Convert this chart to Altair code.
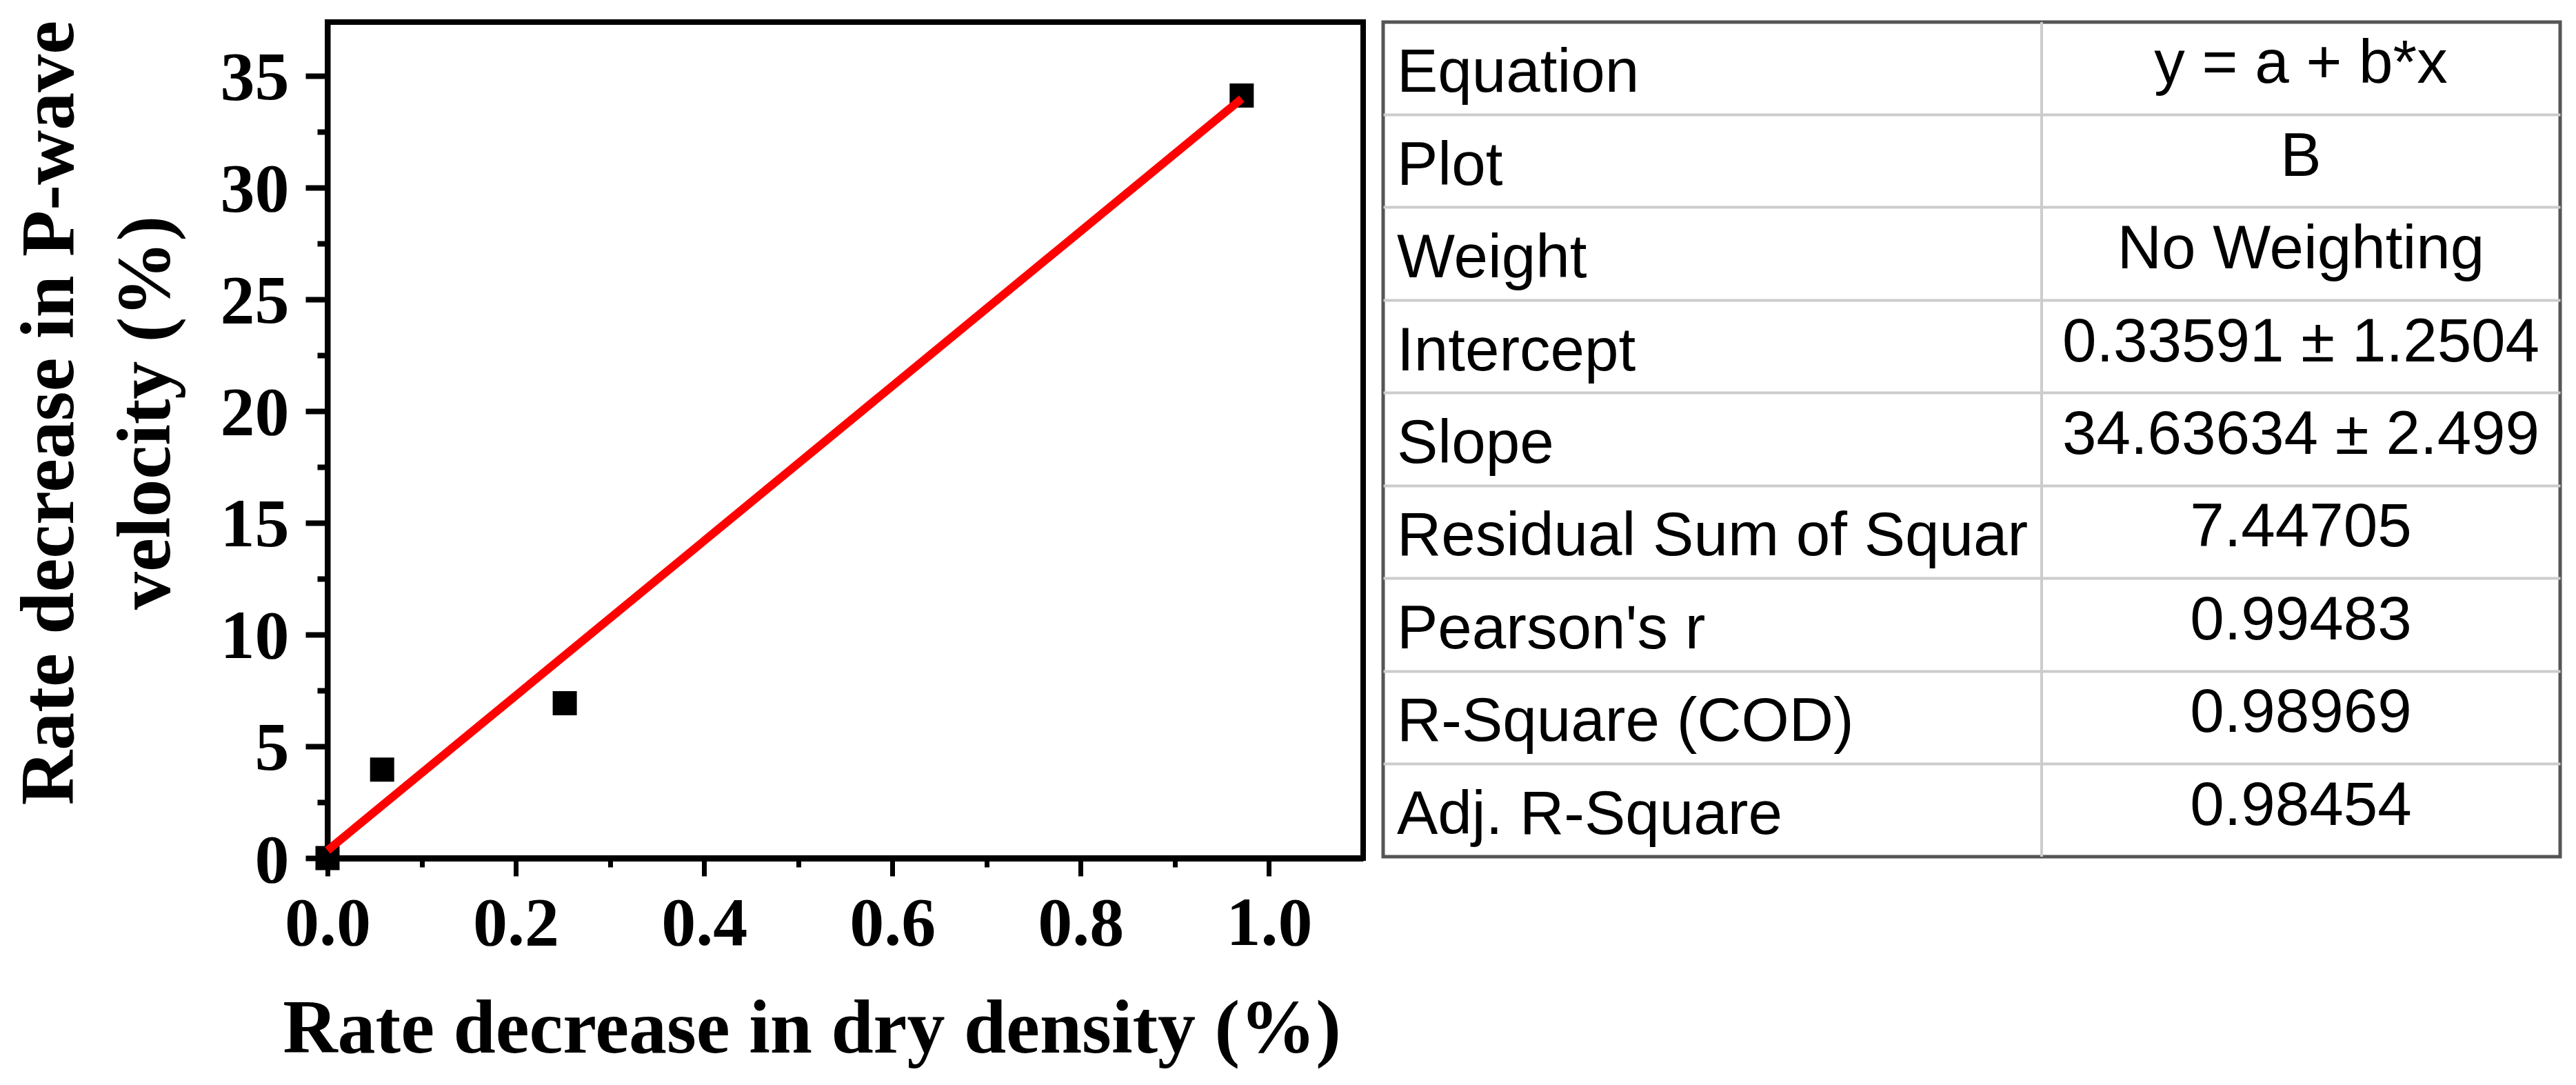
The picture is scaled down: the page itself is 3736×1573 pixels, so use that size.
import altair as alt
import pandas as pd

# ---- scatter data ----
x_vals = [0.0, 0.058, 0.252, 0.971]
y_vals = [0.0, 3.96, 6.93, 34.11]
# fitted line end points (y = a + b*x, a = 0.33591, b = 34.63634)
fit_x = [0.0, 0.971]
fit_y = [0.34, 33.97]

x_ticks = [0.0, 0.1, 0.2, 0.3, 0.4, 0.5, 0.6, 0.7, 0.8, 0.9, 1.0]
y_ticks = [0, 2.5, 5, 7.5, 10, 12.5, 15, 17.5, 20, 22.5, 25, 27.5, 30, 32.5, 35]

x_title = "Rate decrease in dry density (%)"
y_title = ["Rate decrease in P-wave", "velocity (%)"]

# ---- fit table ----
table_labels = ["Equation", "Plot", "Weight", "Intercept", "Slope",
                "Residual Sum of Squar", "Pearson's r", "R-Square (COD)",
                "Adj. R-Square"]
table_values = ["y = a + b*x", "B", "No Weighting", "0.33591 \u00b1 1.2504",
                "34.63634 \u00b1 2.499", "7.44705", "0.99483", "0.98969",
                "0.98454"]

pts = pd.DataFrame({"x": x_vals, "y": y_vals})
fit = pd.DataFrame({"x": fit_x, "y": fit_y})

SERIF = "Liberation Serif"
SANS = "Liberation Sans"

x_axis = alt.Axis(
    values=x_ticks,
    labelExpr="round(datum.value*10) % 2 === 0 ? format(datum.value, '.1f') : ''",
    tickSize={"condition": {"test": "round(datum.value*10) % 2 === 0", "value": 26}, "value": 13},
    tickWidth=7, tickColor="black",
    domainColor="black", domainWidth=9,
    labelFont=SERIF, labelFontSize=100, labelFontWeight="bold", labelColor="black",
    labelPadding=20, labelFlush=False, labelOverlap=False,
    grid=False,
    title=x_title, titleFont=SERIF, titleFontSize=110, titleFontWeight="bold",
    titleColor="black", titleX=702, titleY=281, titleAlign="center",
    titleBaseline="alphabetic",
)

y_axis = alt.Axis(
    values=y_ticks,
    labelExpr="datum.value % 5 === 0 ? datum.label : ''",
    tickSize={"condition": {"test": "datum.value % 5 === 0", "value": 32}, "value": 15},
    tickWidth=8, tickColor="black",
    domainColor="black", domainWidth=8,
    labelFont=SERIF, labelFontSize=100, labelFontWeight="bold", labelColor="black",
    labelPadding=24, labelFlush=False, labelOverlap=False, labelOffset=4,
    grid=False,
    title=y_title, titleFont=SERIF, titleFontSize=110, titleFontWeight="bold",
    titleColor="black", titleAngle=270, titleX=-370, titleY=566,
    titleAlign="center", titleBaseline="alphabetic", titleLineHeight=140,
)

xs = alt.Scale(domain=[0, 1.1], nice=False, zero=False)
ys = alt.Scale(domain=[0, 37.4], nice=False, zero=False)

points = alt.Chart(pts).mark_square(size=1225, color="black", opacity=1, clip=False).encode(
    x=alt.X("x:Q", scale=xs, axis=x_axis),
    y=alt.Y("y:Q", scale=ys, axis=y_axis),
)
line = alt.Chart(fit).mark_line(color="#ff0000", strokeWidth=12).encode(
    x=alt.X("x:Q", scale=xs, axis=x_axis),
    y=alt.Y("y:Q", scale=ys, axis=y_axis),
)

plot = alt.layer(points, line).properties(
    width=1502, height=1212,
    view=alt.ViewBackground(stroke="black", strokeWidth=8, fill="white"),
)

# ---- table chart ----
tbl = pd.DataFrame({"row": table_labels, "label": table_labels, "value": table_values})
row_axis = alt.Axis(values=table_labels[1:], grid=True, gridColor="#cccccc", gridWidth=4,
                    bandPosition=0, labels=False, ticks=False, domain=False, title=None)
row_y = alt.Y("row:N", sort=table_labels,
              scale=alt.Scale(type="band", paddingInner=0, paddingOuter=0),
              axis=row_axis)

lab = alt.Chart(tbl).mark_text(align="left", baseline="middle", font=SANS, fontSize=89,
                               color="black", dy=7).encode(
    x=alt.value(20), y=row_y, text="label:N")
val = alt.Chart(tbl).mark_text(align="center", baseline="middle", font=SANS, fontSize=89,
                               color="black", dy=-6).encode(
    x=alt.value(1331), y=row_y, text="value:N")
divider = alt.Chart(pd.DataFrame({"d": [0]})).mark_rule(color="#cccccc", strokeWidth=4).encode(
    x=alt.value(955), y=alt.value(0), y2=alt.value(1210))

table = alt.layer(divider, lab, val).properties(
    width=1707, height=1210,
    view=alt.ViewBackground(stroke="#555555", strokeWidth=5, fill="white"),
)

chart = alt.hconcat(plot, table, spacing=22).properties(
    padding={"left": 4, "top": 17, "right": 5, "bottom": 5},
).configure(background="white")

chart.save("out.html", embed_options={"renderer": "svg", "actions": False})
